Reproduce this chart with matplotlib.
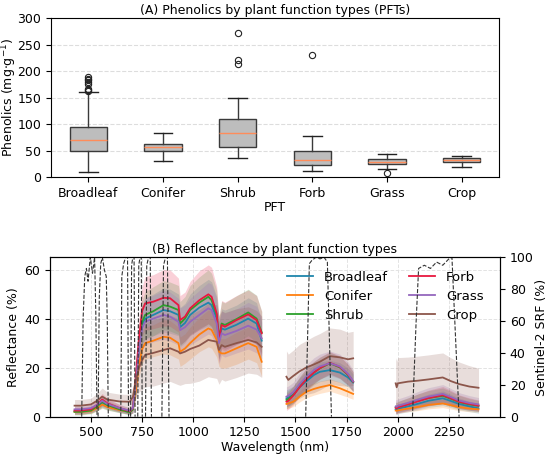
import numpy as np
import matplotlib
matplotlib.use('Agg')
import matplotlib.pyplot as plt

plt.rcParams['font.size'] = 9

# Panel A: phenolics box statistics per PFT
pfts = ['Broadleaf', 'Conifer', 'Shrub', 'Forb', 'Grass', 'Crop']
box_low = [10, 31, 35, 12, 15, 19]
box_q1 = [49, 50, 57, 22, 24, 28]
box_med = [69, 57, 84, 32, 28, 33]
box_q3 = [94, 63, 110, 50, 34, 35]
box_high = [160, 84, 149, 78, 43, 39]
box_fliers = [[163, 165, 167, 176, 180, 183, 186, 189], [], [213, 221, 272], [231], [8], []]

# Panel B: mean reflectance (%) and spread per PFT, three spectral windows
wl_vnir = [420, 450, 500, 530, 555, 580, 640, 690, 705, 720, 735, 750, 765, 805, 855, 887,
           928, 936, 960, 985, 1030, 1074, 1090, 1115, 1126, 1139, 1155, 1212, 1269, 1310, 1335]
wl_swir1 = [1456, 1465, 1489, 1520, 1554, 1590, 1619, 1668, 1717, 1757, 1782]
wl_swir2 = [1990, 1995, 2000, 2050, 2100, 2150, 2220, 2260, 2300, 2350, 2395]

refl_broadleaf = [2.2, 2.2, 2.7, 4.0, 5.5, 4.3, 2.8, 1.8, 3.0, 14, 28, 37, 40, 41.5, 43.5, 43, 41.5, 36.5, 38.2, 41.5, 44.5, 46.5, 45.5, 40, 31, 36, 35.5, 37.5, 40, 38, 31] \
    + [7.5, 7.8, 9.0, 12.0, 14.5, 17.0, 18.3, 19.0, 18.0, 16.0, 13.9] \
    + [3.0, 2.8, 3.2, 4.2, 5.3, 6.5, 7.5, 6.4, 5.2, 4.2, 3.4]
refl_conifer = [2.0, 2.0, 2.3, 3.5, 5.0, 4.0, 2.7, 2.0, 3.0, 11, 21, 27.5, 30, 31, 32.6, 32.2, 30, 26.5, 27.8, 30, 33.5, 36, 35.4, 31.3, 26.5, 25.8, 25.8, 27.9, 30, 28.5, 22.4] \
    + [5.2, 5.4, 6.1, 8.2, 10.2, 11.3, 12.0, 12.9, 11.6, 10.2, 9.3] \
    + [2.5, 2.4, 2.6, 3.3, 4.0, 4.8, 5.4, 4.7, 3.9, 3.3, 3.0]
refl_shrub = [2.0, 2.0, 2.5, 4.2, 6.1, 4.8, 3.0, 1.8, 3.0, 15, 29, 38.5, 41.5, 43, 45.5, 44.9, 43.5, 38.0, 40.0, 43.5, 46.5, 48.9, 47.5, 41.5, 32.0, 38.0, 37.4, 39.8, 42.5, 40.0, 34.4] \
    + [6.8, 7.2, 8.8, 12.3, 15.6, 18.0, 19.7, 21.8, 20.1, 17.0, 14.3] \
    + [3.8, 3.6, 4.0, 5.2, 6.5, 7.6, 8.5, 7.3, 6.0, 5.0, 4.4]
refl_forb = [2.5, 2.5, 3.0, 4.8, 7.0, 5.5, 3.5, 2.2, 3.5, 17, 32, 43, 46.2, 46.9, 48.5, 48.3, 45.5, 39.4, 40.8, 44.2, 47.5, 49.9, 48.9, 42.1, 31.3, 37.4, 36.7, 39.4, 41.7, 39.4, 34.0] \
    + [6.1, 6.5, 8.6, 12.0, 15.3, 18.0, 19.8, 22.0, 20.3, 17.2, 14.3] \
    + [3.6, 3.4, 3.8, 5.0, 6.3, 7.6, 8.8, 7.5, 6.1, 5.2, 4.5]
refl_grass = [3.0, 3.0, 3.5, 4.8, 6.5, 5.2, 3.5, 2.5, 3.5, 14, 27, 36, 38.7, 40, 41.5, 40.8, 38.7, 35.3, 36.5, 38.7, 41.5, 44.2, 43.5, 38.0, 30.0, 34.0, 33.3, 35.0, 37.1, 35.5, 32.0] \
    + [8.2, 8.5, 10.0, 13.3, 16.3, 19.0, 20.5, 21.8, 20.5, 17.5, 14.5] \
    + [4.2, 4.0, 4.4, 5.6, 7.0, 8.2, 9.3, 8.0, 6.6, 5.6, 5.0]
refl_crop = [4.5, 4.5, 5.0, 6.5, 8.2, 7.0, 6.2, 6.1, 8, 15, 20, 23, 25.2, 26, 27.2, 27.9, 26.5, 25.8, 26.5, 27.6, 29, 31.3, 31, 30.6, 27.2, 29.2, 28.5, 30, 31.3, 30.3, 28.5] \
    + [16.3, 15.0, 16.6, 18.5, 20.1, 21.3, 22.4, 24.7, 24.2, 23.4, 23.8] \
    + [13.6, 12.0, 13.6, 14.3, 14.7, 15.2, 16.0, 14.5, 13.3, 12.3, 11.8]

sd_broadleaf = [1.2, 1.2, 1.2, 1.5, 2, 1.6, 1.2, 1, 1.5, 5, 7, 8, 8.5, 8.5, 9, 9, 8.5, 8, 8, 8.5, 9, 9.5, 9.5, 9, 7.5, 8, 8, 8, 8.5, 8.5, 7.5] \
    + [3.5, 3.5, 3.5, 3.8, 4, 4, 4, 4, 4, 3.8, 3.5] \
    + [2, 2, 2, 2.2, 2.5, 2.7, 3, 2.7, 2.4, 2.1, 2]
sd_conifer = [1, 1, 1, 1.2, 1.5, 1.3, 1, 1, 1.2, 3.5, 5, 6, 6.5, 6.5, 7, 7, 6.5, 6, 6, 6.5, 7, 7.5, 7.5, 7, 6, 6, 6, 6.5, 6.5, 6.5, 6] \
    + [2, 2, 2, 2.2, 2.5, 2.5, 2.5, 2.5, 2.5, 2.3, 2.2] \
    + [1.2, 1.2, 1.2, 1.3, 1.5, 1.6, 1.7, 1.6, 1.4, 1.3, 1.2]
sd_shrub = [1.3, 1.3, 1.3, 1.7, 2.2, 1.8, 1.3, 1, 1.5, 6, 8, 9, 9.5, 10, 10, 10, 10, 9, 9, 10, 10.5, 11, 11, 10, 8.5, 9, 9, 9.5, 9.5, 9.5, 8.5] \
    + [3.5, 3.5, 3.5, 4, 4.2, 4.5, 4.5, 4.5, 4.5, 4.2, 4] \
    + [2.2, 2.2, 2.2, 2.5, 2.8, 3, 3.2, 3, 2.7, 2.4, 2.2]
sd_forb = [1.5, 1.5, 1.5, 2, 2.5, 2, 1.5, 1.2, 2, 6, 9, 10, 11, 11, 11.5, 11.5, 11, 10, 10, 11, 12, 12, 12, 11, 9, 10, 10, 10, 10, 10, 9] \
    + [3.5, 3.5, 3.8, 4, 4.5, 4.5, 4.5, 4.5, 4.5, 4.2, 4] \
    + [2.3, 2.3, 2.3, 2.6, 3, 3.2, 3.5, 3.2, 2.8, 2.5, 2.3]
sd_grass = [1.5, 1.5, 1.5, 1.8, 2.2, 1.8, 1.5, 1.2, 1.8, 5.5, 8, 9, 9.5, 9.5, 10, 10, 9.5, 9, 9, 9.5, 10, 10.5, 10.5, 10, 8.5, 9, 9, 9, 9.5, 9.5, 8.5] \
    + [4, 4, 4, 4.5, 4.8, 5, 5, 5, 5, 4.8, 4.5] \
    + [2.8, 2.8, 2.8, 3, 3.3, 3.6, 3.8, 3.5, 3.2, 3, 2.8]
sd_crop = [2.5, 2.5, 2.5, 3, 3.5, 3, 3, 3, 4, 7, 10, 12, 13, 13.5, 13.5, 13.5, 13.5, 13, 13, 14, 14.5, 15, 15, 15, 14, 14, 14, 14, 13.5, 13, 12.5] \
    + [10.5, 10.5, 10.5, 11, 11, 11.5, 11.5, 11.5, 11.5, 11, 11] \
    + [10.5, 10.5, 10.5, 10, 10, 10, 10, 9.5, 9, 8.5, 8]

pft_colors = ['#1f86ab', '#ff7f0e', '#2ca02c', '#e8183f', '#9467bd', '#8c564b']
refl_all = [refl_broadleaf, refl_conifer, refl_shrub, refl_forb, refl_grass, refl_crop]
sd_all = [sd_broadleaf, sd_conifer, sd_shrub, sd_forb, sd_grass, sd_crop]

# Sentinel-2 spectral response functions (%), one list pair per band
srf_bands = {
    'B2': ([455, 462, 470, 478, 486, 497, 508, 518, 524, 530], [0, 62, 88, 93, 85, 100, 90, 100, 65, 0]),
    'B3': ([535, 541, 548, 556, 566, 575, 580, 585], [0, 75, 96, 100, 92, 88, 60, 0]),
    'B4': ([646, 651, 660, 670, 679, 684], [0, 88, 96, 100, 100, 0]),
    'B5': ([694, 699, 705, 711, 716], [0, 95, 100, 100, 0]),
    'B6': ([729, 734, 740, 746, 751], [0, 95, 100, 100, 0]),
    'B7': ([767, 773, 782, 790, 796], [0, 95, 100, 100, 0]),
    'B8A': ([847, 855, 865, 874, 882], [0, 95, 100, 100, 0]),
    'B11': ([1550, 1568, 1580, 1600, 1620, 1640, 1656, 1676], [0, 96, 98, 100, 99, 100, 97, 0]),
    'B12': ([2072, 2090, 2102, 2130, 2160, 2190, 2220, 2250, 2265, 2300],
            [0, 60, 93, 95, 93, 97, 95, 99, 100, 0]),
}

fig = plt.figure(figsize=(5.5, 4.57), dpi=100)

# ---- (A) box plots
ax1 = fig.add_axes([0.0927, 0.6127, 0.8145, 0.3473])
stats = []
for i, name in enumerate(pfts):
    stats.append({'label': name, 'whislo': box_low[i], 'q1': box_q1[i], 'med': box_med[i],
                  'q3': box_q3[i], 'whishi': box_high[i], 'fliers': box_fliers[i]})
ax1.bxp(stats, patch_artist=True, widths=0.5,
        boxprops=dict(facecolor='#bdbdbd', edgecolor='#3a3a3a', linewidth=1),
        medianprops=dict(color='#ff8c5a', linewidth=1),
        whiskerprops=dict(color='#3a3a3a', linewidth=1),
        capprops=dict(color='#222222', linewidth=1),
        flierprops=dict(marker='o', markerfacecolor='none', markeredgecolor='#222222',
                        markersize=4.5, markeredgewidth=0.8))
ax1.set_ylim(0, 300)
ax1.set_yticks([0, 50, 100, 150, 200, 250, 300])
ax1.yaxis.grid(True, linestyle='--', color='#dddddd', linewidth=0.8)
ax1.set_axisbelow(True)
ax1.set_title('(A) Phenolics by plant function types (PFTs)', fontsize=9, pad=3)
ax1.set_xlabel('PFT', labelpad=1)
ax1.set_ylabel(r'Phenolics (mg$\cdot$g$^{-1}$)')
ax1.yaxis.set_label_coords(-0.071, 0.5)

# ---- (B) reflectance spectra
ax2 = fig.add_axes([0.0909, 0.0882, 0.8182, 0.3488])
segments = [wl_vnir, wl_swir1, wl_swir2]
for name, refl, sd, col in zip(pfts, refl_all, sd_all, pft_colors):
    start = 0
    for k, wl in enumerate(segments):
        n = len(wl)
        m = np.array(refl[start:start + n])
        s = np.array(sd[start:start + n])
        ax2.fill_between(wl, m - s, m + s, color=col, alpha=0.2, linewidth=0)
        ax2.plot(wl, m, color=col, linewidth=1.3, label=name if k == 0 else None)
        start += n

ax2.set_xlim(300, 2500)
ax2.set_ylim(0, 65)
ax2.set_yticks([0, 20, 40, 60])
ax2.set_xticks([500, 750, 1000, 1250, 1500, 1750, 2000, 2250])
ax2.grid(True, linestyle='--', color='#e3e3e3', linewidth=0.7)
ax2.set_axisbelow(True)
ax2.set_xlabel('Wavelength (nm)', labelpad=1)
ax2.set_ylabel('Reflectance (%)')
ax2.yaxis.set_label_coords(-0.067, 0.5)
ax2.set_title('(B) Reflectance by plant function types', fontsize=9, pad=3)
ax2.legend(ncol=2, frameon=False, loc='upper right', bbox_to_anchor=(0.99, 0.99),
           fontsize=9.5, handlelength=2.0, labelspacing=0.45, columnspacing=1.6)

ax3 = ax2.twinx()
for band, (bw, bv) in srf_bands.items():
    ax3.plot(bw, bv, color='#333333', linestyle='--', linewidth=0.8)
ax3.set_ylim(0, 100)
ax3.set_ylabel('Sentinel-2 SRF (%)')
ax3.yaxis.set_label_coords(1.078, 0.5)

fig.savefig('out.png', dpi=100)
